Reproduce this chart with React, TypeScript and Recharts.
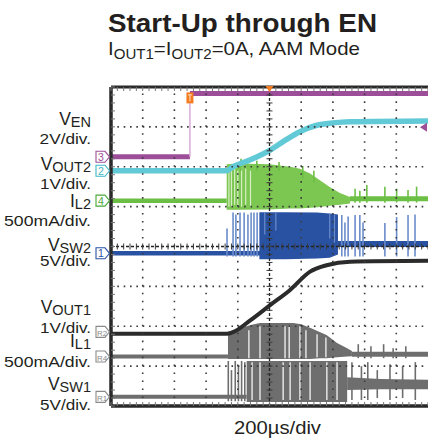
import React from 'react';
import { ComposedChart, XAxis, YAxis, Line, Area, Scatter, ReferenceLine } from 'recharts';

const FONT = "'Liberation Sans', Arial, Helvetica, sans-serif";

// graticule tick positions (divisions)
const xMinorTicks = [0,0.2,0.4,0.6,0.8,1,1.2,1.4,1.6,1.8,2,2.2,2.4,2.6,2.8,3,3.2,3.4,3.6,3.8,4,4.2,4.4,4.6,4.8,5,5.2,5.4,5.6,5.8,6,6.2,6.4,6.6,6.8,7,7.2,7.4,7.6,7.8,8,8.2,8.4,8.6,8.8,9,9.2,9.4,9.6,9.8,10];
const yMinorTicks = [0,0.2,0.4,0.6,0.8,1,1.2,1.4,1.6,1.8,2,2.2,2.4,2.6,2.8,3,3.2,3.4,3.6,3.8,4,4.2,4.4,4.6,4.8,5,5.2,5.4,5.6,5.8,6,6.2,6.4,6.6,6.8,7,7.2,7.4,7.6,7.8,8];
const xGrid = [1,2,3,4,6,7,8,9];
const yGrid = [1,2,3,5,6,7];

// V_EN (ch3)
const venLow = [[0,6.25],[2.49,6.25]];
const venHigh = [[2.49,7.84],[10,7.84]];
const venEdge = [2.49, 6.25, 7.84];

// V_OUT2 (ch2)
const vout2 = [[0,5.9],[3.65,5.9],[3.85,6.0],[4.38,6.17],[5.02,6.42],[5.43,6.63],[5.96,6.88],[6.49,7.04],[7.0,7.1],[7.54,7.13],[10,7.15]];

// I_L2 (ch4)
const il2Before = [[0,5.15],[3.65,5.15]];
const il2Burst = [[3.65,4.92,6.06],[4.0,4.92,6.08],[5.0,4.93,6.06],[5.65,4.95,6.0],[5.96,4.95,5.95],[6.28,4.97,5.83],[6.59,4.99,5.66],[6.9,5.02,5.49],[7.22,5.05,5.34],[7.54,5.08,5.24]];
const il2After = [[7.54,5.2],[10,5.2]];
const il2Spikes = [[4.1,5.9,6.2],[4.6,5.9,6.15],[5.3,5.9,6.12],[6.05,5.7,6.02],[6.4,5.6,5.9],[7.7,5.1,5.45],[7.85,5.1,5.4],[8.07,5.1,5.54],[8.64,5.1,5.5],[9.01,5.1,5.45],[9.37,5.1,5.42],[9.64,5.1,5.5]];
const il2Gaps = [[3.72,5.0,5.95],[3.8,5.0,6.0],[3.9,5.05,5.95],[4.0,5.0,5.9],[4.12,5.0,6.0],[4.25,5.05,5.95],[4.4,5.0,5.9]];

// V_SW2 (ch1)
const vsw2Before = [[0,3.83],[4.7,3.83]];
const vsw2Sparse = [[3.66,3.75,4.45],[3.85,3.75,4.85],[3.94,3.75,4.8],[4.07,3.75,4.85],[4.2,3.75,4.85],[4.32,3.75,4.8],[4.42,3.75,4.85],[4.51,3.75,4.85],[4.61,3.75,4.85]];
const vsw2Burst = [[4.68,3.68,4.86],[5.5,3.68,4.86],[6.5,3.7,4.85],[6.9,3.72,4.83],[7.16,3.8,4.8]];
const vsw2After = [[7.16,4.06],[10,4.06]];
const vsw2Spikes = [[7.28,3.75,4.79],[7.38,3.75,4.6],[7.48,3.75,4.75],[7.7,3.75,4.79],[7.85,3.75,4.79],[7.95,3.75,4.6],[8.64,3.75,4.59],[9.01,3.75,4.74],[9.37,3.75,4.79],[9.59,3.75,4.8]];
const vsw2Gaps = [[4.85,4.3,4.86],[5.2,4.4,4.86],[6.9,4.2,4.83],[7.05,4.1,4.8]];

// V_OUT1 (R2)
const vout1 = [[0,1.81],[3.65,1.81],[3.87,1.86],[4.38,2.14],[5.02,2.53],[5.65,2.91],[6.28,3.37],[6.8,3.53],[7.54,3.62],[10,3.64]];

// I_L1 (R4)
const il1Before = [[0,1.24],[3.69,1.24]];
const il1Burst = [[3.69,1.18,1.86],[4.1,1.18,1.95],[4.4,1.18,2.03],[4.7,1.18,2.08],[5.75,1.18,2.08],[6.0,1.18,2.05],[6.28,1.18,1.96],[6.6,1.2,1.85],[6.8,1.2,1.78],[7.13,1.22,1.58],[7.45,1.24,1.45],[7.6,1.25,1.38]];
const il1After = [[7.6,1.3],[10,1.3]];
const il1Spikes = [[7.8,1.2,1.55],[8.2,1.2,1.5],[8.6,1.2,1.55],[8.9,1.2,1.45],[9.3,1.2,1.5]];
const il1Gaps = [[4.35,1.2,1.9],[4.7,1.2,2.0],[5.49,1.2,2.0],[5.62,1.2,2.0],[5.96,1.2,2.0],[6.15,1.2,1.9],[6.5,1.22,1.8],[6.78,1.22,1.72]];

// V_SW1 (R1)
const vsw1Before = [[0,0.23],[4.28,0.23]];
const vsw1Sparse = [[3.7,0.12,1.13],[3.8,0.12,0.9],[3.92,0.12,1.13],[4.02,0.12,1.0],[4.12,0.12,1.13],[4.22,0.12,1.1]];
const vsw1Burst = [[4.28,0.1,1.13],[7.45,0.1,1.13]];
const vsw1After = [[7.45,0.4,0.72],[8.5,0.42,0.68],[10,0.42,0.66]];
const vsw1Spikes = [[7.6,0.15,1.1],[7.9,0.15,1.0],[8.1,0.15,1.1],[8.4,0.2,0.9],[8.8,0.15,1.05],[9.2,0.2,1.0],[9.6,0.15,1.1]];
const vsw1Gaps = [[4.45,0.15,1.1],[4.7,0.15,1.1],[5.43,0.15,1.1],[5.65,0.15,1.1],[5.96,0.15,1.1],[6.28,0.15,1.1],[6.81,0.15,1.1],[7.13,0.15,1.1]];

const chMarkers = [
  { x: 0, y: 6.25, label: '3', color: '#9c4f98' },
  { x: 0, y: 5.9, label: '2', color: '#3fb8c6' },
  { x: 0, y: 5.15, label: '4', color: '#4aa83a' },
  { x: 0, y: 3.83, label: '1', color: '#2a52a3' },
  { x: 0, y: 1.86, label: 'R2', color: '#8a8a8a' },
  { x: 0, y: 1.24, label: 'R4', color: '#8a8a8a' },
  { x: 0, y: 0.23, label: 'R1', color: '#8a8a8a' },
];
const trigLevel = [{ x: 10, y: 6.99 }];
const trigPos = [{ x: 2.49, y: 7.84 }];
const trigTop = [{ x: 5, y: 8 }];

const C = {
  purple: '#9c4f98', pink: '#dcaad8', cyan: '#62c9d6', green: '#6cbf45', greenFill: '#7cc652', greenGap: '#d6eec6',
  blue: '#2a52a3', blueLight: '#6a8ccb', black: '#2b2b2b', gray: '#6e6e6e', orange: '#f47b20', grid: '#3a3a3a', frame: '#2a2a2a',
};

const pts = (a: number[][]) => a.map(([x, y]) => ({ x, y }));
const rng = (a: number[][]) => a.map(([x, lo, hi]) => ({ x, r: [lo, hi] }));

const tickPts = (vals: number[], fixed: number, horizontal: boolean) =>
  vals.map((v) => (horizontal ? { x: v, y: fixed } : { x: fixed, y: v }));

const mkTick = (dx1: number, dx2: number, dy1: number, dy2: number, color = '#3a3a3a') => (p: any) => (
  <line x1={p.cx + dx1} x2={p.cx + dx2} y1={p.cy + dy1} y2={p.cy + dy2} stroke={color} strokeWidth={1} />
);

const MarkerShape = (p: any) => {
  const { cx, cy, payload } = p;
  const c = payload.color;
  const x0 = cx - 15, x1 = cx - 6, x2 = cx - 1.5, h = 5.5;
  const isR = payload.label.length > 1;
  return (
    <g>
      <path d={`M${x0},${cy - h}L${x1},${cy - h}L${x2},${cy}L${x1},${cy + h}L${x0},${cy + h}Z`} fill="#fff" stroke={c} strokeWidth={1.1} />
      <text x={x0 + (isR ? 6 : 5)} y={cy + 4} fontSize={isR ? 8 : 10.5} fill={c} textAnchor="middle" fontFamily={FONT}>{payload.label}</text>
    </g>
  );
};

const TrigLevelShape = (p: any) => (
  <path d={`M${p.cx - 1},${p.cy - 4.5}L${p.cx - 8},${p.cy}L${p.cx - 1},${p.cy + 4.5}Z`} fill={C.purple} />
);
const TrigPosShape = (p: any) => (
  <g>
    <rect x={p.cx - 3.5} y={p.cy - 1} width={7} height={11} fill={C.orange} />
    <path d={`M${p.cx - 2},${p.cy + 1.5}L${p.cx + 2},${p.cy + 1.5}M${p.cx},${p.cy + 1.5}L${p.cx},${p.cy + 8}`} stroke="#fde0c8" strokeWidth={1} />
  </g>
);
const TrigTopShape = (p: any) => (
  <path d={`M${p.cx - 4},${p.cy - 1}L${p.cx + 4},${p.cy - 1}L${p.cx},${p.cy + 5}Z`} fill={C.orange} />
);

const spikes = (list: number[][], color: string, w: number, key: string) =>
  list.map(([x, lo, hi], i) => (
    <ReferenceLine key={key + i} segment={[{ x, y: lo }, { x, y: hi }]} stroke={color} strokeWidth={w} />
  ));

const Label = ({ y, main, sub }: { y: number; main: string; sub: string }) => (
  <text x={91} y={y} textAnchor="end" fontSize={17.5} fill="#231f20">
    {main}
    <tspan fontSize={14.5} dy={2}>{sub}</tspan>
  </text>
);
const Scale = ({ y, t, w }: { y: number; t: string; w: number }) => (
  <text x={91} y={y} textAnchor="end" fontSize={15} fill="#231f20" textLength={w} lengthAdjust="spacingAndGlyphs">{t}</text>
);

export default function App() {
  return (
    <div style={{ position: 'absolute', left: 0, top: 0, width: 428, height: 438, background: '#fff' }}>
      <ComposedChart width={428} height={438} margin={{ top: 87, right: 0, bottom: 32, left: 111 }}>
        <XAxis type="number" dataKey="x" domain={[0, 10]} hide />
        <YAxis type="number" domain={[0, 8]} hide />

        {/* V_SW1 */}
        <Line data={pts(vsw1Before)} dataKey="y" stroke={C.gray} strokeWidth={4} dot={false} isAnimationActive={false} />
        {spikes(vsw1Sparse, C.gray, 1.6, 'vs1a')}
        <Area data={rng(vsw1Burst)} dataKey="r" type="linear" stroke="none" fill={C.gray} fillOpacity={1} isAnimationActive={false} />
        {spikes(vsw1Gaps, '#ffffff', 1.2, 'vs1g')}
        <Area data={rng(vsw1After)} dataKey="r" type="linear" stroke="none" fill={C.gray} fillOpacity={1} isAnimationActive={false} />
        {spikes(vsw1Spikes, C.gray, 1.6, 'vs1b')}

        {/* I_L1 */}
        <Line data={pts(il1Before)} dataKey="y" stroke={C.gray} strokeWidth={4} dot={false} isAnimationActive={false} />
        <Area data={rng(il1Burst)} dataKey="r" type="linear" stroke="none" fill={C.gray} fillOpacity={1} isAnimationActive={false} />
        {spikes(il1Gaps, '#ffffff', 1.2, 'il1g')}
        <Line data={pts(il1After)} dataKey="y" stroke={C.gray} strokeWidth={5} dot={false} isAnimationActive={false} />
        {spikes(il1Spikes, C.gray, 1.6, 'il1')}

        {/* V_OUT1 */}
        <Line data={pts(vout1)} dataKey="y" type="monotone" stroke={C.black} strokeWidth={4} dot={false} isAnimationActive={false} />

        {/* V_SW2 */}
        <Line data={pts(vsw2Before)} dataKey="y" stroke={C.blue} strokeWidth={4.5} dot={false} isAnimationActive={false} />
        {spikes(vsw2Sparse, C.blueLight, 1.6, 'vs2a')}
        <Area data={rng(vsw2Burst)} dataKey="r" type="linear" stroke="none" fill={C.blue} fillOpacity={1} isAnimationActive={false} />
        {spikes(vsw2Gaps, C.blueLight, 1.2, 'vs2g')}
        <Line data={pts(vsw2After)} dataKey="y" stroke={C.blue} strokeWidth={6} dot={false} isAnimationActive={false} />
        {spikes(vsw2Spikes, C.blueLight, 1.6, 'vs2b')}

        {/* I_L2 */}
        <Line data={pts(il2Before)} dataKey="y" stroke={C.green} strokeWidth={4.5} dot={false} isAnimationActive={false} />
        <Area data={rng(il2Burst)} dataKey="r" type="linear" stroke="none" fill={C.greenFill} fillOpacity={1} isAnimationActive={false} />
        {spikes(il2Gaps, C.greenGap, 1.2, 'il2g')}
        <Line data={pts(il2After)} dataKey="y" stroke={C.green} strokeWidth={5} dot={false} isAnimationActive={false} />
        {spikes(il2Spikes, C.green, 1.6, 'il2')}

        {/* V_OUT2 */}
        <Line data={pts(vout2)} dataKey="y" type="monotone" stroke={C.cyan} strokeWidth={5.5} dot={false} isAnimationActive={false} />

        {/* V_EN */}
        <Line data={pts(venLow)} dataKey="y" stroke={C.purple} strokeWidth={5} dot={false} isAnimationActive={false} />
        <ReferenceLine segment={[{ x: venEdge[0], y: venEdge[1] }, { x: venEdge[0], y: venEdge[2] }]} stroke={C.pink} strokeWidth={1.5} />
        <Line data={pts(venHigh)} dataKey="y" stroke={C.purple} strokeWidth={5} dot={false} isAnimationActive={false} />

        {/* graticule */}
        {xGrid.map((v) => (
          <ReferenceLine key={'gx' + v} x={v} stroke={C.grid} strokeWidth={1.6} strokeDasharray="1.6 6.375" />
        ))}
        {yGrid.map((v) => (
          <ReferenceLine key={'gy' + v} y={v} stroke={C.grid} strokeWidth={1.6} strokeDasharray="1.6 4.74" />
        ))}
        <ReferenceLine x={5} stroke="#222" strokeWidth={1.3} strokeDasharray="3 2" />
        <ReferenceLine y={4} stroke="#222" strokeWidth={1.3} strokeDasharray="3 2" />
        <Scatter data={tickPts(xMinorTicks, 4, true)} dataKey="y" shape={mkTick(0, 0, -3, 3)} isAnimationActive={false} />
        <Scatter data={tickPts(yMinorTicks, 5, false)} dataKey="y" shape={mkTick(-3, 3, 0, 0)} isAnimationActive={false} />
        <Scatter data={tickPts(xMinorTicks, 8, true)} dataKey="y" shape={mkTick(0, 0, 0, 4, '#777')} isAnimationActive={false} />
        <Scatter data={tickPts(xMinorTicks, 0, true)} dataKey="y" shape={mkTick(0, 0, -4, 0, '#777')} isAnimationActive={false} />
        <Scatter data={tickPts(yMinorTicks, 0, false)} dataKey="y" shape={mkTick(0, 4, 0, 0, '#777')} isAnimationActive={false} />
        <ReferenceLine x={0} stroke={C.frame} strokeWidth={3.5} />
        <ReferenceLine y={0} stroke={C.frame} strokeWidth={3.5} />
        <ReferenceLine y={8} stroke={C.frame} strokeWidth={3} />

        {/* markers */}
        <Scatter data={chMarkers} dataKey="y" shape={MarkerShape} isAnimationActive={false} />
        <Scatter data={trigLevel} dataKey="y" shape={TrigLevelShape} isAnimationActive={false} />
        <Scatter data={trigPos} dataKey="y" shape={TrigPosShape} isAnimationActive={false} />
        <Scatter data={trigTop} dataKey="y" shape={TrigTopShape} isAnimationActive={false} />
      </ComposedChart>

      <svg width={428} height={438} style={{ position: 'absolute', left: 0, top: 0, pointerEvents: 'none' }} fontFamily={FONT}>
        <text x={108} y={31.7} fontSize={26.5} fontWeight="bold" fill="#231f20" textLength={269} lengthAdjust="spacingAndGlyphs">Start-Up through EN</text>
        <text x={108} y={54.5} fontSize={19} fill="#231f20" textLength={252} lengthAdjust="spacingAndGlyphs">
          I<tspan fontSize={14} dy={4}>OUT1</tspan>
          <tspan dy={-4}>=I</tspan>
          <tspan fontSize={14} dy={4}>OUT2</tspan>
          <tspan dy={-4}>=0A, AAM Mode</tspan>
        </text>
        <Label y={124.5} main="V" sub="EN" />
        <Scale y={143.5} t="2V/div." w={51.4} />
        <Label y={170} main="V" sub="OUT2" />
        <Scale y={189} t="1V/div." w={51} />
        <Label y={206.5} main="I" sub="L2" />
        <Scale y={226} t="500mA/div." w={87} />
        <Label y={251} main="V" sub="SW2" />
        <Scale y={265.5} t="5V/div." w={51} />
        <Label y={313.3} main="V" sub="OUT1" />
        <Scale y={332.8} t="1V/div." w={51} />
        <Label y={347} main="I" sub="L1" />
        <Scale y={366.5} t="500mA/div." w={87} />
        <Label y={390} main="V" sub="SW1" />
        <Scale y={410} t="5V/div." w={51} />
        <text x={234} y={433.5} fontSize={18.5} fill="#231f20" textLength={87} lengthAdjust="spacingAndGlyphs">200µs/div</text>
      </svg>
    </div>
  );
}
